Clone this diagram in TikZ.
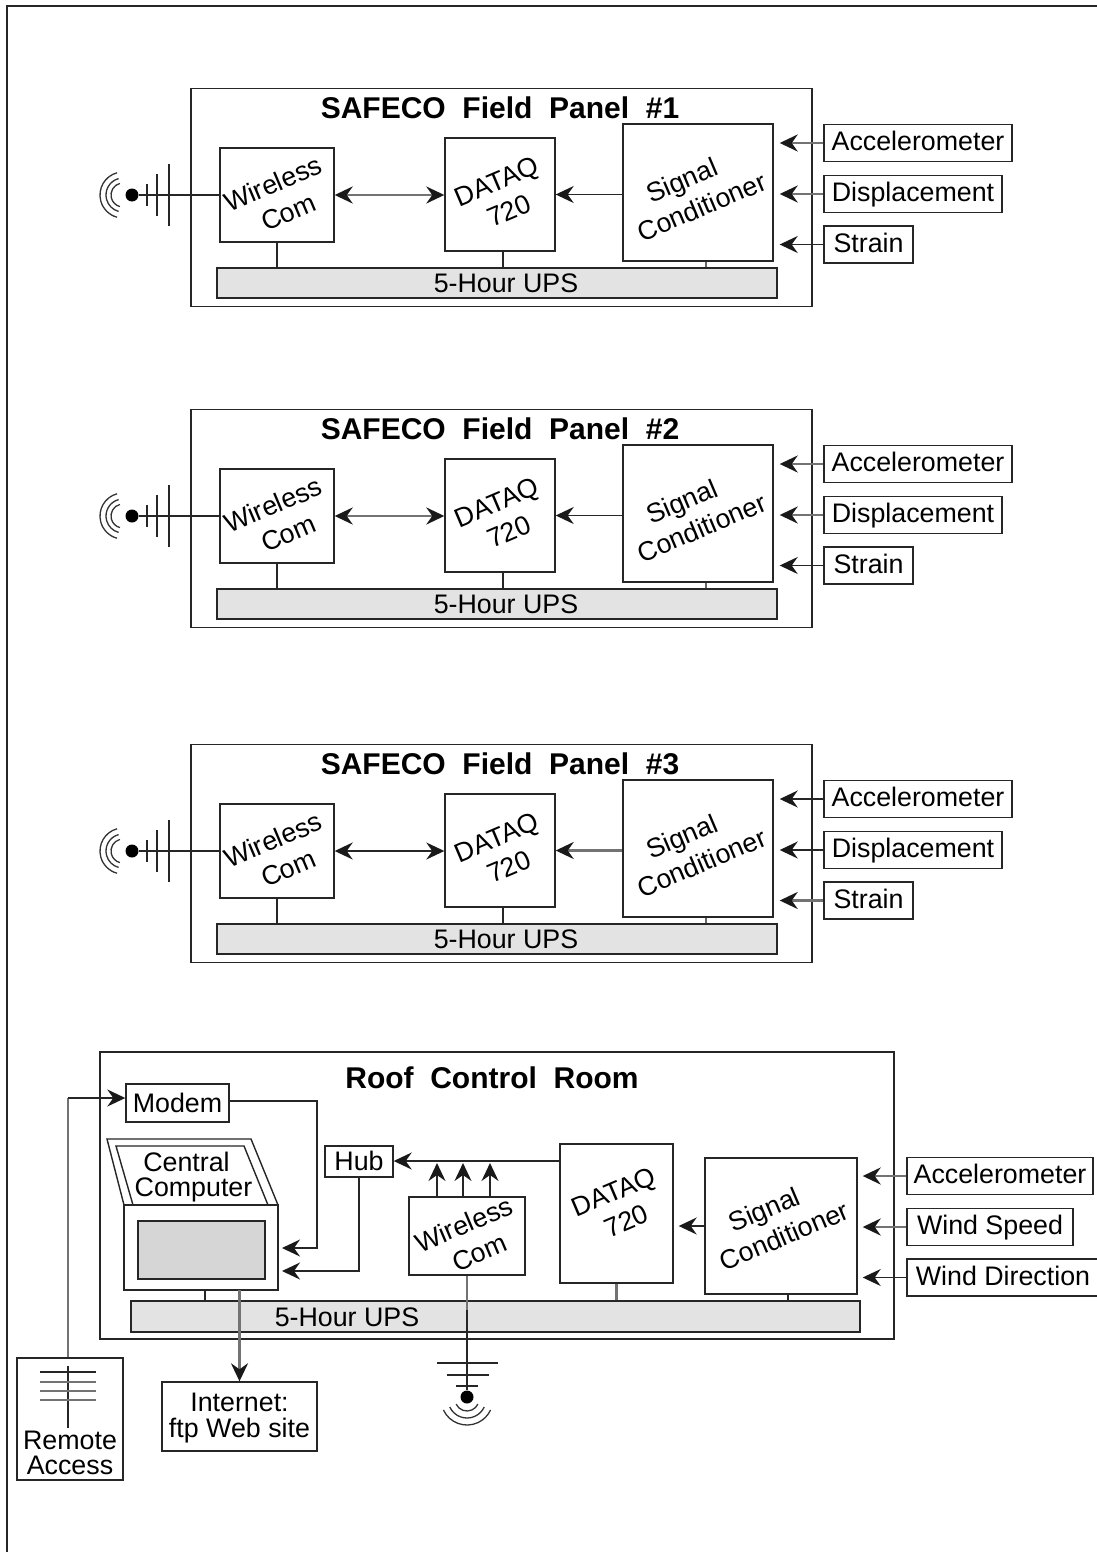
\documentclass[tikz,border=0pt]{standalone}
\usepackage{fontspec}
\setmainfont{Liberation Sans}
\usetikzlibrary{arrows.meta,positioning}
\tikzset{
 size/.style 2 args={minimum width=#1pt,minimum height=#2pt},
 blockbox/.style={draw=black!85,line width=1.4pt,inner sep=0pt,fill=white},
 upsbox/.style={blockbox,fill=black!11},
 inbox/.style={blockbox,text height=19pt,text depth=3.5pt},
 tilted/.style={rotate=23,align=center,inner sep=0pt,font=\fontsize{26.8}{32}\selectfont},
 panelname/.style={font=\fontsize{30}{32}\bfseries\selectfont,inner sep=0pt},
 dotnode/.style={circle,fill=black,inner sep=0pt,minimum size=13pt},
 wire/.style={line width=1.5pt,black!85},
 softwire/.style={line width=2.6pt,black!55},
 wave/.style={line width=1.3pt,black!80}
}
\begin{document}
\begin{tikzpicture}[x=1pt,y=-1pt,>={Stealth[length=18pt,width=17pt,inset=6pt,color=black!90]},font=\fontsize{26.8}{25.5}\selectfont]
\clip[use as bounding box] (0,0) rectangle (1097,1552);
\draw[wire,line width=2pt] (7,1560)--(7,6)--(1100,6);
\foreach \p/\dy/\wq/\sq/\aq/\bq/\cq in {1/0/softwire/wire/softwire/softwire/wire,2/321/softwire/wire/softwire/softwire/wire,3/656/wire/softwire/wire/wire/softwire}{
\begin{scope}[yshift=-\dy pt]
\node[blockbox,size={621}{218}] (panel\p) at (501.5,197.5) {};
\node[panelname] (title\p) at (500,108) {SAFECO\ \ Field\ \ Panel\ \ \#\p};
\node[blockbox,size={114}{94}] (wc\p) at (277,195) {};
\node[tilted] (wcl\p) at (279,198.5) {Wireless\\\hspace*{7pt}Com};
\node[blockbox,size={110}{113}] (dq\p) at (500,194.5) {};
\node[tilted] (dql\p) at (503,196) {DATAQ\\720};
\node[blockbox,size={150}{137}] (sc\p) at (698,192.5) {};
\node[tilted] (scl\p) at (695.5,192) {Signal\hspace*{16pt}\\Conditioner};
\node[upsbox,size={560}{30}] (ups\p) at (497,283) {};
\node[inner sep=0pt] (upsl\p) at (506,283) {5-Hour UPS};
\node[dotnode] (ant\p) at (132,195) {};
\foreach \q/\t/\x/\y/\w/\s in {a/Accelerometer/918/143/188/\aq,b/Displacement/913/194/178/\bq,c/Strain/868.5/244.5/89/\cq}{
 \node[inbox,size={\w}{37}] (in\p\q) at (\x,\y) {\t};
 \draw[\s,->,shorten >=6pt] (in\p\q.west)--(in\p\q.west -| sc\p.east);
}
\draw[wire] (wc\p.west)--(ant\p);
\draw[\wq,<->] (wc\p.east)--(wc\p.east -| dq\p.west);
\draw[\sq,->] (sc\p.west |- dq\p.east)--(dq\p.east);
\draw[wire] (wc\p.south)--(wc\p.south |- ups\p.north);
\draw[wire] ([xshift=3pt]dq\p.south)--([xshift=3pt]dq\p.south |- ups\p.north);
\draw[wire,black!60] ([xshift=8pt]sc\p.south)--([xshift=8pt]sc\p.south |- ups\p.north);
\foreach \tx/\th in {147/11,157/21,169/31}{
 \draw[wire] (\tx,195-\th)--(\tx,195+\th);
}
\foreach \r in {23,17,12}{
 \draw[wave] ([xshift=-9pt]ant\p.center) ++(105:\r pt) arc (105:255:\r pt);
}
\end{scope}
}
\node[blockbox,size={794}{287}] (roof) at (497,1195.5) {};
\node[panelname] (rooftitle) at (492,1078) {Roof\ \ Control\ \ Room};
\node[inbox,text height=23pt,size={103}{38}] (modem) at (177.5,1103) {Modem};
\node[inbox,text height=21pt,size={68}{31}] (hub) at (359,1161.5) {Hub};
\node[blockbox,size={116}{78}] (wc) at (467,1236) {};
\node[tilted] (wcl) at (470,1239) {Wireless\\\hspace*{7pt}Com};
\node[blockbox,size={113}{139}] (dq) at (616.5,1213.5) {};
\node[tilted] (dql) at (620,1206.5) {DATAQ\\720};
\node[blockbox,size={152}{136}] (sc) at (781,1226) {};
\node[tilted] (scl) at (778,1221) {Signal\hspace*{16pt}\\Conditioner};
\node[upsbox,size={729}{31}] (ups) at (495.5,1316.5) {};
\node[inner sep=0pt] (upsl) at (347,1317) {5-Hour UPS};
\foreach \q/\t/\x/\y/\w/\s in {a/Accelerometer/1000/1176/186/softwire,b/Wind Speed/990/1227/166/softwire,c/Wind Direction/1003/1277.5/192/wire}{
 \node[inbox,size={\w}{37}] (in\q) at (\x,\y) {\t};
 \draw[\s,->,shorten >=5pt] (in\q.west)--(in\q.west -| sc.east);
}
\draw[blockbox] (107,1139)--(251,1139)--(278,1205)--(124,1205)--cycle;
\draw[blockbox] (116,1146)--(244,1146)--(268,1205)--(133,1205)--cycle;
\node[align=center,inner sep=0pt] (cpl) at (193.5,1177) {Central\hspace*{14pt}\\Computer};
\node[blockbox,size={154}{85}] (cp) at (201,1247.5) {};
\node[blockbox,fill=black!16,size={127}{58}] (screen) at (201.5,1250) {};
\node[blockbox,size={155}{69}] (web) at (239.5,1416.5) {};
\node[align=center,inner sep=0pt] (webl) at (239.5,1418) {Internet:\\ftp Web site};
\node[blockbox,size={106}{122}] (ra) at (70,1419) {};
\node[align=center,inner sep=0pt] (ral) at (70,1453) {Remote\\Access};
\node[dotnode] (ant) at (467,1397) {};
\coordinate (cpa) at (282,1248);
\coordinate (cpb) at (282,1271);
\draw[wire,->] (dq.west |- 0,1161)--(hub.east |- 0,1161);
\foreach \ax in {437,463,490}{
 \draw[wire,->] (\ax,1197)--(\ax,1163);
}
\draw[softwire] (dq.south)--(dq.south |- ups.north);
\draw[wire] ([xshift=7pt]sc.south)--([xshift=7pt]sc.south |- ups.north);
\draw[wire,->,shorten >=5pt] (sc.west)--(sc.west -| dq.east);
\draw[wire] (wc.south)--(ant);
\draw[softwire] (wc.south)--(467,1310);
\draw[wire] (205,1290)--(205,1301);
\draw[softwire,->] (239.5,1290)--(web.north);
\draw[softwire] ([xshift=-2pt]ra.north)--(68,1098);
\draw[wire,->] (68,1098)--(modem.west |- 0,1098);
\draw[wire,->] (modem.east |- 0,1101)-|(317,1248)--(cpa);
\draw[wire,->] (hub.south)|-(cpb);
\draw[wire] (437,1363)--(498,1363);
\draw[wire] (447,1375)--(489,1375);
\draw[wire] (456,1386)--(478,1386);
\draw[wire] (68,1366)--(68,1428);
\foreach \hy/\hc in {1372/85,1382/55,1391/55,1400/55}{
 \draw[line width=1.8pt,black!\hc] (40,\hy)--(96,\hy);
}
\foreach \r in {26,19,12}{
 \draw[wave] ([yshift=-2pt]ant.center) ++(205:\r pt) arc (205:335:\r pt);
}
\end{tikzpicture}
\end{document}
